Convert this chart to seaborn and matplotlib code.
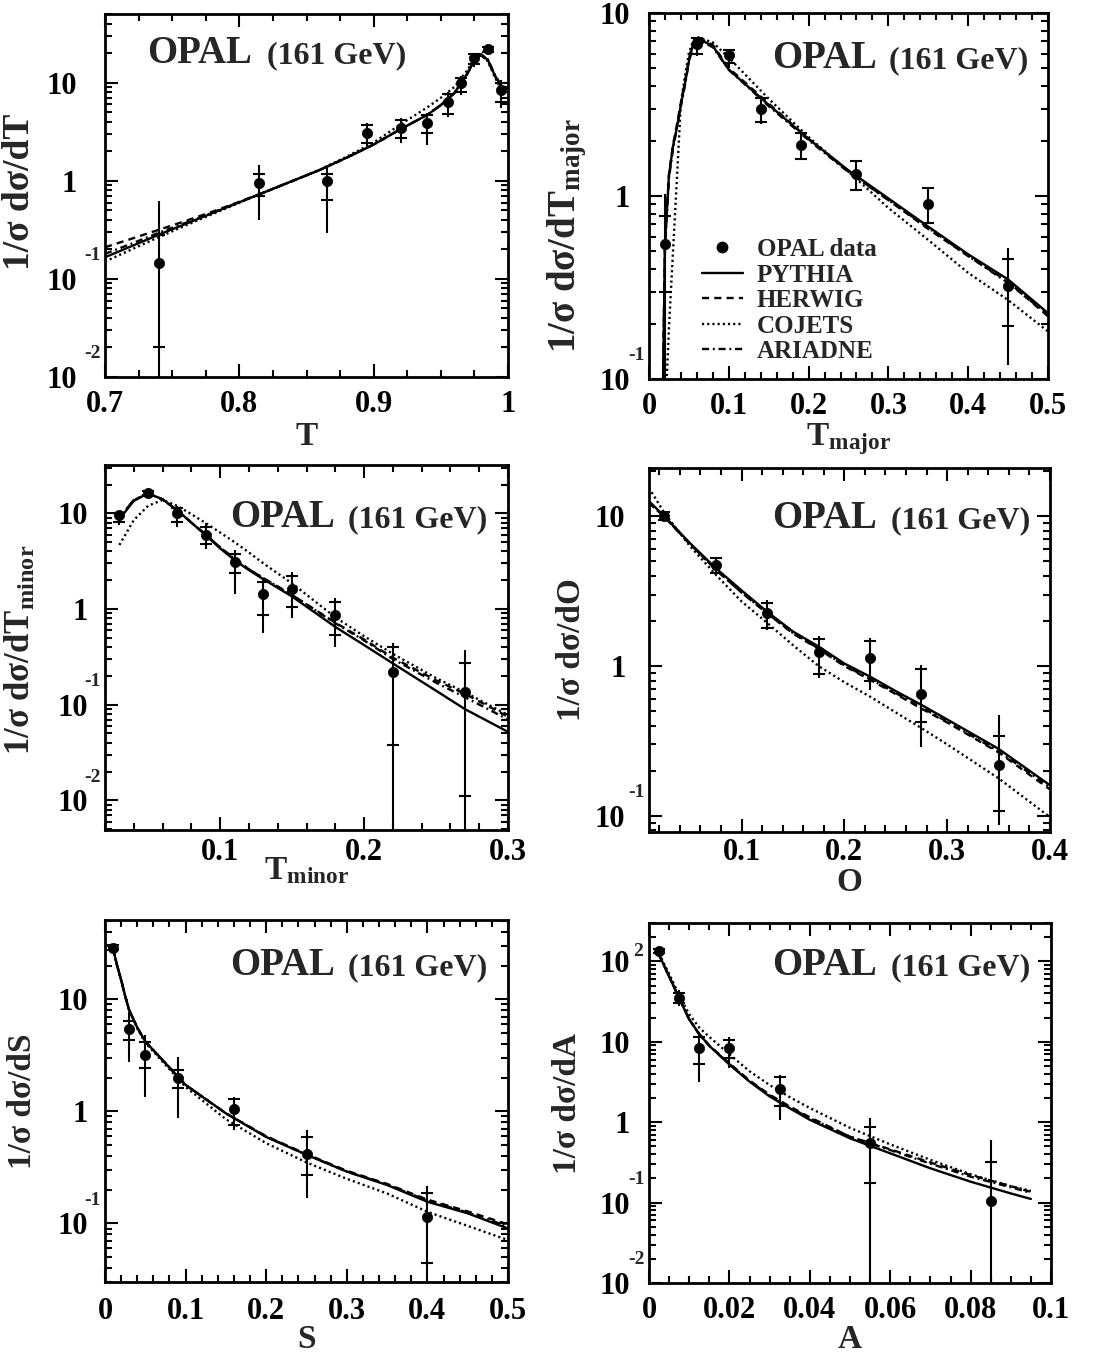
import numpy as np
import pandas as pd
import matplotlib
matplotlib.use("Agg")
import matplotlib.pyplot as plt
from matplotlib.ticker import MultipleLocator, FixedLocator, LogLocator, NullFormatter, FuncFormatter
from matplotlib.transforms import ScaledTranslation
from matplotlib.lines import Line2D
import seaborn as sns

# ---------------- data ----------------
# Thrust T
t_x = [0.74, 0.815, 0.865, 0.895, 0.92, 0.94, 0.955, 0.965, 0.975, 0.985, 0.995]
t_y = [0.146, 0.95, 1.0, 3.09, 3.48, 3.86, 6.4, 10.0, 17.9, 21.8, 8.4]
t_stat_lo = [0.02, 0.70, 0.63, 2.4, 2.72, 3.05, 4.8, 8.1, 15.5, 20.5, 6.4]
t_stat_hi = [0.28, 1.17, 1.17, 3.7, 4.2, 4.7, 7.6, 11.1, 19.5, 23.2, 9.8]
t_tot_lo = [0.001, 0.40, 0.295, 2.23, 2.42, 2.32, 4.5, 7.5, 14.5, 19.8, 5.5]
t_tot_hi = [0.62, 1.46, 1.42, 3.86, 4.4, 4.9, 8.1, 11.7, 19.8, 24.2, 10.6]
t_grid = [0.70, 0.72, 0.74, 0.76, 0.78, 0.80, 0.82, 0.84, 0.86, 0.88, 0.90,
          0.92, 0.94, 0.95, 0.96, 0.97, 0.975, 0.98, 0.985, 0.99, 0.995, 1.0]
t_pythia = [0.166, 0.216, 0.282, 0.363, 0.468, 0.603, 0.776, 1.0, 1.29, 1.72, 2.34,
            3.35, 4.7, 5.9, 7.8, 12.5, 17.5, 19.5, 17.0, 12.0, 9.2, 8.6]
t_herwig = [0.21, 0.257, 0.316, 0.389, 0.484, 0.61, 0.776, 1.0, 1.29, 1.72, 2.34,
            3.35, 4.7, 5.9, 7.8, 12.5, 17.0, 19.0, 16.8, 11.8, 9.0, 8.5]
t_cojets = [0.15, 0.2, 0.266, 0.35, 0.457, 0.596, 0.776, 1.0, 1.3, 1.76, 2.45,
            3.75, 5.6, 7.0, 9.0, 13.5, 17.5, 19.0, 16.5, 11.5, 8.5, 7.5]
t_ariadne = [0.18, 0.229, 0.295, 0.372, 0.473, 0.605, 0.776, 1.0, 1.29, 1.72, 2.34,
             3.35, 4.7, 5.9, 7.8, 12.5, 16.8, 19.2, 17.3, 12.2, 9.3, 8.7]

# Thrust major
tma_x = [0.02, 0.06, 0.10, 0.14, 0.19, 0.26, 0.35, 0.45]
tma_y = [0.55, 6.8, 5.9, 3.0, 1.89, 1.32, 0.9, 0.324]
tma_stat_lo = [0.30, 6.0, 5.3, 2.55, 1.6, 1.08, 0.71, 0.195]
tma_stat_hi = [0.78, 7.3, 6.3, 3.45, 2.22, 1.55, 1.1, 0.45]
tma_tot_lo = [0.001, 5.8, 5.0, 2.48, 1.57, 1.06, 0.71, 0.12]
tma_tot_hi = [1.02, 7.4, 6.36, 3.5, 2.26, 1.58, 1.11, 0.52]
tma_grid = [0.0175, 0.02, 0.025, 0.03, 0.035, 0.04, 0.045, 0.05, 0.055, 0.06,
            0.08, 0.1, 0.15, 0.2, 0.25, 0.3, 0.35, 0.4, 0.45, 0.5]
tma_pythia = [0.09, 0.55, 1.3, 1.86, 2.37, 3.16, 4.1, 5.45, 6.7, 7.3,
              6.6, 4.9, 3.15, 2.05, 1.38, 0.97, 0.68, 0.48, 0.35, 0.229]
tma_herwig = [0.09, 0.55, 1.3, 1.9, 2.45, 3.25, 4.2, 5.6, 6.9, 7.4,
              6.7, 5.0, 3.2, 2.05, 1.36, 0.95, 0.66, 0.47, 0.34, 0.22]
tma_cojets = [0.03, 0.06, 0.19, 0.49, 1.25, 3.24, 4.5, 6.05, 7.0, 7.4,
              6.9, 5.7, 3.4, 2.1, 1.36, 0.86, 0.575, 0.38, 0.27, 0.182]
tma_ariadne = [0.09, 0.52, 1.25, 1.8, 2.35, 3.1, 4.0, 5.4, 6.6, 7.2,
               6.5, 4.9, 3.1, 2.02, 1.35, 0.95, 0.67, 0.47, 0.335, 0.225]

# Thrust minor
tmi_x = [0.03, 0.05, 0.07, 0.09, 0.11, 0.13, 0.15, 0.18, 0.22, 0.27]
tmi_y = [9.6, 16.4, 10.0, 5.94, 3.13, 1.43, 1.61, 0.865, 0.221, 0.137]
tmi_stat_lo = [8.2, 15.5, 8.2, 4.74, 2.4, 0.865, 1.04, 0.54, 0.038, 0.011]
tmi_stat_hi = [10.2, 17.2, 11.3, 7.25, 3.8, 1.93, 2.2, 1.19, 0.40, 0.27]
tmi_tot_lo = [7.55, 15.2, 7.25, 4.2, 1.44, 0.557, 0.80, 0.404, 0.001, 0.001]
tmi_tot_hi = [10.6, 17.5, 11.9, 8.0, 4.14, 2.01, 2.45, 1.29, 0.437, 0.37]
tmi_grid = [0.03, 0.04, 0.05, 0.06, 0.07, 0.08, 0.09, 0.10, 0.11, 0.12,
            0.13, 0.15, 0.18, 0.20, 0.22, 0.25, 0.27, 0.30]
tmi_pythia = [8.7, 13.5, 16.2, 14.0, 10.8, 8.0, 5.9, 4.3, 3.25, 2.55,
              2.05, 1.35, 0.65, 0.42, 0.27, 0.14, 0.09, 0.052]
tmi_herwig = [9.0, 13.8, 16.0, 14.0, 10.8, 8.0, 6.0, 4.4, 3.35, 2.6,
              2.1, 1.4, 0.72, 0.48, 0.31, 0.18, 0.13, 0.075]
tmi_cojets = [4.67, 8.5, 12.0, 13.8, 12.0, 9.8, 7.9, 6.3, 5.0, 3.9,
              3.0, 1.85, 0.82, 0.52, 0.34, 0.19, 0.135, 0.078]
tmi_ariadne = [9.0, 13.8, 16.0, 14.0, 10.8, 8.0, 6.0, 4.4, 3.35, 2.6,
               2.1, 1.4, 0.71, 0.47, 0.30, 0.17, 0.12, 0.07]

# Oblateness O
o_x = [0.025, 0.075, 0.125, 0.175, 0.225, 0.275, 0.35]
o_y = [10.0, 4.75, 2.26, 1.25, 1.13, 0.653, 0.219]
o_stat_lo = [9.4, 4.15, 1.8, 0.88, 0.8, 0.42, 0.108]
o_stat_hi = [10.6, 5.3, 2.65, 1.52, 1.47, 0.95, 0.34]
o_tot_lo = [9.3, 4.07, 1.75, 0.83, 0.695, 0.29, 0.087]
o_tot_hi = [10.8, 5.35, 2.75, 1.58, 1.54, 1.02, 0.473]
o_grid = [0.01, 0.025, 0.05, 0.075, 0.1, 0.125, 0.15, 0.175, 0.2, 0.225,
          0.25, 0.275, 0.3, 0.35, 0.4]
o_pythia = [12.6, 10.0, 6.6, 4.5, 3.2, 2.3, 1.7, 1.35, 1.04, 0.85,
            0.68, 0.55, 0.44, 0.28, 0.16]
o_herwig = [12.3, 9.9, 6.5, 4.4, 3.1, 2.25, 1.65, 1.3, 1.0, 0.81,
            0.65, 0.52, 0.42, 0.265, 0.15]
o_cojets = [15.5, 10.5, 6.3, 4.07, 2.7, 1.94, 1.38, 1.0, 0.78, 0.625,
            0.49, 0.385, 0.30, 0.178, 0.098]
o_ariadne = [12.3, 9.9, 6.5, 4.4, 3.1, 2.25, 1.66, 1.31, 1.01, 0.82,
             0.66, 0.53, 0.425, 0.27, 0.155]

# Sphericity S
s_x = [0.01, 0.03, 0.05, 0.09, 0.16, 0.25, 0.40]
s_y = [28.9, 5.4, 3.18, 1.97, 1.06, 0.42, 0.113]
s_stat_lo = [27.5, 4.33, 2.42, 1.6, 0.75, 0.27, 0.044]
s_stat_hi = [30.5, 6.45, 4.2, 2.34, 1.3, 0.586, 0.185]
s_tot_lo = [27.0, 2.78, 1.35, 0.866, 0.68, 0.167, 0.038]
s_tot_hi = [31.0, 7.77, 4.8, 3.07, 1.35, 0.68, 0.215]
s_grid = [0.01, 0.015, 0.02, 0.025, 0.03, 0.04, 0.05, 0.075, 0.1, 0.15,
          0.2, 0.25, 0.3, 0.35, 0.4, 0.45, 0.5]
s_pythia = [28.5, 20.0, 14.9, 10.7, 8.0, 5.6, 4.2, 2.69, 1.72, 0.96,
            0.59, 0.41, 0.29, 0.22, 0.156, 0.123, 0.09]
s_herwig = [28.5, 20.0, 14.9, 10.7, 8.0, 5.6, 4.2, 2.69, 1.72, 0.96,
            0.6, 0.415, 0.295, 0.225, 0.163, 0.128, 0.098]
s_cojets = [28.5, 20.0, 14.9, 10.7, 8.0, 5.5, 4.1, 2.6, 1.65, 0.85,
            0.52, 0.35, 0.25, 0.185, 0.127, 0.095, 0.071]
s_ariadne = [28.5, 20.0, 14.9, 10.7, 8.0, 5.6, 4.2, 2.69, 1.72, 0.96,
             0.595, 0.41, 0.29, 0.222, 0.16, 0.125, 0.094]

# Aplanarity A
a_x = [0.0025, 0.0075, 0.0125, 0.02, 0.0325, 0.055, 0.085]
a_y = [136, 35, 8.3, 8.3, 2.58, 0.55, 0.105]
a_stat_lo = [128, 30, 5.3, 6.3, 1.57, 0.174, np.nan]
a_stat_hi = [144, 41, 11.6, 10.6, 3.6, 0.88, 0.324]
a_tot_lo = [126, 28, 3.2, 4.7, 1.07, 0.001, 0.001]
a_tot_hi = [146, 44, 13.1, 11.6, 3.88, 1.12, 0.60]
a_grid = [0.0025, 0.005, 0.0075, 0.01, 0.0125, 0.015, 0.02, 0.025, 0.03,
          0.035, 0.04, 0.05, 0.06, 0.07, 0.08, 0.09, 0.095]
a_pythia = [121, 65, 35, 19, 12.5, 8.9, 5.2, 3.2, 2.09, 1.49, 1.07,
            0.63, 0.41, 0.267, 0.182, 0.13, 0.111]
a_herwig = [121, 65, 35, 19, 12.5, 9.0, 5.4, 3.3, 2.2, 1.57, 1.15,
            0.66, 0.46, 0.315, 0.22, 0.16, 0.136]
a_cojets = [125, 70, 38, 22, 15, 11.5, 7.0, 4.3, 2.9, 2.05, 1.5,
            0.85, 0.53, 0.34, 0.225, 0.16, 0.14]
a_ariadne = [121, 65, 35, 19, 12.3, 8.9, 5.3, 3.25, 2.15, 1.53, 1.12,
             0.66, 0.45, 0.305, 0.21, 0.155, 0.132]

generators = ["PYTHIA", "HERWIG", "COJETS", "ARIADNE"]

# ---------------- style ----------------
sns.set_theme(style="ticks")
plt.rcParams["font.family"] = ["Liberation Serif", "DejaVu Serif"]
plt.rcParams["font.weight"] = "bold"
plt.rcParams["mathtext.fontset"] = "custom"
plt.rcParams["mathtext.rm"] = "Liberation Serif:bold"
plt.rcParams["mathtext.bf"] = "Liberation Serif:bold"
plt.rcParams["mathtext.it"] = "Liberation Serif:bold"
plt.rcParams["axes.linewidth"] = 2.0

dash_map = {"PYTHIA": "", "HERWIG": (3.0, 2.2), "COJETS": (0.9, 1.3),
            "ARIADNE": (3.0, 1.6, 0.8, 1.6)}

W, H = 1103, 1356
fig = plt.figure(figsize=(W / 100, H / 100), dpi=100)


def make_axes(l, t, r, b):
    return fig.add_axes([l / W, 1 - b / H, (r - l) / W, (b - t) / H])


def draw_panel(ax, x, y, slo, shi, tlo, thi, grid, curves):
    ax.set_yscale("log")
    rows = []
    for g, vals in zip(generators, curves):
        for gx, gy in zip(grid, vals):
            rows.append({"x": gx, "y": gy, "gen": g})
    df = pd.DataFrame(rows)
    sns.lineplot(data=df, x="x", y="y", style="gen", dashes=dash_map,
                 style_order=generators, color="black", lw=1.7,
                 estimator=None, sort=False, legend=False, ax=ax)
    x = np.asarray(x)
    y = np.asarray(y)
    tlo = np.asarray(tlo)
    thi = np.asarray(thi)
    ax.errorbar(x, y, yerr=[y - tlo, thi - y], fmt="none", ecolor="black",
                elinewidth=1.5, capsize=0)
    ax.plot(x, slo, ls="none", marker="_", ms=9, mew=1.5, color="black")
    ax.plot(x, shi, ls="none", marker="_", ms=9, mew=1.5, color="black")
    sns.scatterplot(x=x, y=y, color="black", s=55, edgecolor="black",
                    linewidth=0.5, ax=ax, zorder=5)
    ax.set_xlabel("")
    ax.set_ylabel("")


def style_axes(ax, xlim, ylim, xmaj, xmin, exps, ypad, xpad):
    ax.set_xlim(*xlim)
    ax.set_ylim(*ylim)
    ax.xaxis.set_major_locator(MultipleLocator(xmaj))
    ax.xaxis.set_minor_locator(MultipleLocator(xmin))
    ax.xaxis.set_major_formatter(FuncFormatter(lambda v, p: "%g" % round(v, 4)))
    ax.yaxis.set_major_locator(FixedLocator([10.0 ** e for e in exps]))
    ax.yaxis.set_major_formatter(FuncFormatter(
        lambda v, p: "1" if abs(v - 1) < 1e-9 else "10"))
    ax.yaxis.set_minor_locator(LogLocator(base=10, subs=np.arange(2, 10)))
    ax.yaxis.set_minor_formatter(NullFormatter())
    ax.tick_params(which="both", direction="in", top=True, right=True,
                   width=1.5, colors="black")
    ax.tick_params(which="major", length=9.5, labelsize=22)
    ax.tick_params(which="minor", length=5)
    ax.tick_params(axis="y", which="major", pad=ypad)
    ax.tick_params(axis="x", which="major", pad=xpad)
    for lab in ax.get_xticklabels() + ax.get_yticklabels():
        lab.set_fontweight("bold")
    for sp in ax.spines.values():
        sp.set_linewidth(2.0)
        sp.set_color("black")
    for e in exps:
        if e in (0, 1):
            continue
        if e < 0:
            off = ScaledTranslation(-0.04, 0.23, fig.dpi_scale_trans)
        else:
            off = ScaledTranslation(-0.06, 0.10, fig.dpi_scale_trans)
        ax.text(0, 10.0 ** e, str(e), transform=ax.get_yaxis_transform() + off,
                ha="right", va="center", fontsize=14, fontweight="bold")


def title(ax, x1, x2, yb):
    ax.text(x1, yb, "OPAL", transform=ax.transAxes, fontsize=28,
            fontweight="bold", va="baseline", ha="left")
    ax.text(x2, yb, "(161 GeV)", transform=ax.transAxes, fontsize=23,
            fontweight="bold", va="baseline", ha="left")


def labels(ax, xl, yl, xly, ylx, yly, ysize):
    ax.set_xlabel(xl, fontsize=24, fontweight="bold")
    ax.xaxis.set_label_coords(0.5, xly)
    ax.set_ylabel(yl, fontsize=ysize, fontweight="bold")
    ax.yaxis.set_label_coords(ylx, yly)


# ---- panel 1: T ----
ax1 = make_axes(105, 14, 508, 377)
draw_panel(ax1, t_x, t_y, t_stat_lo, t_stat_hi, t_tot_lo, t_tot_hi, t_grid,
           [t_pythia, t_herwig, t_cojets, t_ariadne])
style_axes(ax1, (0.7, 1.0), (0.01, 50), 0.1, 0.025, [-2, -1, 0, 1], 20, 9.5)
title(ax1, 0.104, 0.402, 0.865)
labels(ax1, "T", "1/σ dσ/dT", -0.12, -0.169, 0.51, 27)

# ---- panel 2: T major ----
ax2 = make_axes(649, 13, 1048, 379)
draw_panel(ax2, tma_x, tma_y, tma_stat_lo, tma_stat_hi, tma_tot_lo, tma_tot_hi,
           tma_grid, [tma_pythia, tma_herwig, tma_cojets, tma_ariadne])
style_axes(ax2, (0.0, 0.5), (0.1, 10), 0.1, 0.02, [-1, 0, 1], 14, 9.5)
title(ax2, 0.3075, 0.6025, 0.85)
labels(ax2, r"T$_{\mathbf{major}}$", r"1/σ dσ/dT$_{\mathbf{major}}$",
       -0.115, -0.15, 0.393, 28)

handles = [Line2D([], [], ls="none", marker="o", ms=7.5, color="black")]
for g in generators:
    handles.append(Line2D([], [], color="black", lw=1.7,
                          dashes=dash_map[g] if dash_map[g] else (None, None)))
ax2.legend(handles, ["OPAL data"] + generators, loc="upper left",
           bbox_to_anchor=(0.1325, 0.385), frameon=False,
           handlelength=1.64, handletextpad=0.55, labelspacing=0.1,
           borderpad=0, borderaxespad=0, prop={"weight": "bold", "size": 18})

# ---- panel 3: T minor ----
ax3 = make_axes(105, 465, 508, 830)
draw_panel(ax3, tmi_x, tmi_y, tmi_stat_lo, tmi_stat_hi, tmi_tot_lo, tmi_tot_hi,
           tmi_grid, [tmi_pythia, tmi_herwig, tmi_cojets, tmi_ariadne])
style_axes(ax3, (0.02, 0.3), (0.0049, 32), 0.1, 0.02, [-2, -1, 0, 1], 12.5, 6)
title(ax3, 0.31, 0.603, 0.83)
labels(ax3, r"T$_{\mathbf{minor}}$", r"1/σ dσ/dT$_{\mathbf{minor}}$",
       -0.07, -0.166, 0.493, 25)

# ---- panel 4: O ----
ax4 = make_axes(649, 468, 1050, 832)
draw_panel(ax4, o_x, o_y, o_stat_lo, o_stat_hi, o_tot_lo, o_tot_hi, o_grid,
           [o_pythia, o_herwig, o_cojets, o_ariadne])
style_axes(ax4, (0.01, 0.4), (0.078, 21), 0.1, 0.02, [-1, 0, 1], 17, 4.5)
title(ax4, 0.3075, 0.6025, 0.835)
labels(ax4, "O", "1/σ dσ/dO", -0.095, -0.155, 0.5, 24)

# ---- panel 5: S ----
ax5 = make_axes(105, 920, 508, 1282)
draw_panel(ax5, s_x, s_y, s_stat_lo, s_stat_hi, s_tot_lo, s_tot_hi, s_grid,
           [s_pythia, s_herwig, s_cojets, s_ariadne])
style_axes(ax5, (0.0, 0.5), (0.03, 51), 0.1, 0.02, [-1, 0, 1], 12.5, 11)
title(ax5, 0.31, 0.603, 0.848)
labels(ax5, "S", "1/σ dσ/dS", -0.115, -0.166, 0.5, 24)

# ---- panel 6: A ----
ax6 = make_axes(649, 923, 1051, 1283)
draw_panel(ax6, a_x, a_y, a_stat_lo, a_stat_hi, a_tot_lo, a_tot_hi, a_grid,
           [a_pythia, a_herwig, a_cojets, a_ariadne])
style_axes(ax6, (0.0, 0.1), (0.01, 300), 0.02, 0.005, [-2, -1, 0, 1, 2], 14, 9)
title(ax6, 0.3075, 0.6025, 0.856)
labels(ax6, "A", "1/σ dσ/dA", -0.113, -0.165, 0.5, 24)

fig.savefig("out.png", dpi=100, facecolor="white")
